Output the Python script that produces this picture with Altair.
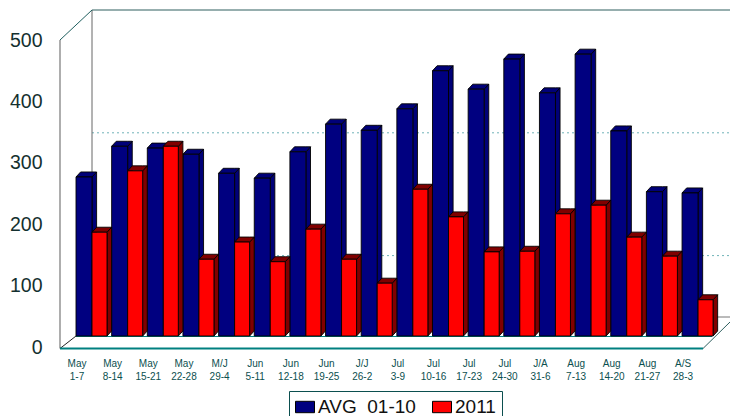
import altair as alt
import pandas as pd

# Weekly counts for each period
months = ["May", "May", "May", "May", "M/J", "Jun", "Jun", "Jun", "J/J", "Jul", "Jul", "Jul", "Jul", "J/A", "Aug", "Aug", "Aug", "A/S"]
days = ["1-7", "8-14", "15-21", "22-28", "29-4", "5-11", "12-18", "19-25", "26-2", "3-9", "10-16", "17-23", "24-30", "31-6", "7-13", "14-20", "21-27", "28-3"]
avg_values = [259, 309, 306, 296, 265, 257, 300, 345, 335, 370, 432, 402, 451, 396, 459, 334, 235, 233]
y2011_values = [169, 269, 309, 125, 153, 121, 174, 125, 86, 239, 194, 137, 138, 199, 213, 161, 130, 59]
avg_name = "AVG\u00a0\u00a001-10"
y2011_name = "2011"
y_ticks = [0, 100, 200, 300, 400, 500]
grid_levels = [100, 300]

# Oblique projection: x is measured in groups, y in counts
PITCH = 35.65
UNIT = 0.614
W, H = 730, 416
ORIGIN_X, ORIGIN_Y = 76, 336
px = lambda p: p / PITCH
val = lambda p: p / UNIT
x_scale = alt.Scale(domain=[px(-ORIGIN_X), px(W - ORIGIN_X)], range=[0, W], nice=False, zero=False)
y_scale = alt.Scale(domain=[val(ORIGIN_Y - H), val(ORIGIN_Y)], range=[H, 0], nice=False, zero=False)
color_scale = alt.Scale(domain=[avg_name, y2011_name], range=["#000080", "#ff0000"])

y_axis = alt.Axis(
    values=y_ticks, orient="left", domain=False, ticks=False, grid=False, offset=-42,
    labelPadding=0, labelOffset=11, labelFont="Liberation Sans", labelFontSize=19.5,
    labelColor="#14302f", title=None, format="d",
)

DEPTH_X, DEPTH_Y = px(4.6), val(5)
series = [
    (avg_name, avg_values, 0.0, px(16)),
    (y2011_name, y2011_values, px(16), px(15)),
]

front_rows, side_rows, top_rows = [], [], []
for name, values, shift, width in series:
    for g, v in enumerate(values):
        x0, x1 = g + shift, g + shift + width
        key = f"{name}-{g}"
        front_rows.append(dict(series=name, x0=x0, x1=x1, v=v))
        side_rows += [
            dict(series=name, bar=key, x=x1, lo=0, hi=v),
            dict(series=name, bar=key, x=x1 + DEPTH_X, lo=DEPTH_Y, hi=v + DEPTH_Y),
        ]
        top_rows += [
            dict(series=name, bar=key, x=x0, lo=v, hi=v),
            dict(series=name, bar=key, x=x0 + DEPTH_X, lo=v, hi=v + DEPTH_Y),
            dict(series=name, bar=key, x=x1, lo=v, hi=v + DEPTH_Y),
            dict(series=name, bar=key, x=x1 + DEPTH_X, lo=v + DEPTH_Y, hi=v + DEPTH_Y),
        ]
front = pd.DataFrame(front_rows)
side = pd.DataFrame(side_rows)
top = pd.DataFrame(top_rows)


def face(df, name, colour):
    return alt.Chart(df[df.series == name]).mark_area(
        orient="vertical", color=colour, stroke="black", strokeWidth=0.9
    ).encode(
        x=alt.X("x:Q", scale=x_scale, axis=None),
        y=alt.Y("lo:Q", scale=y_scale, axis=y_axis, stack=None),
        y2="hi:Q",
        detail="bar:N",
    )


def fronts(name):
    return alt.Chart(front[front.series == name]).mark_bar(stroke="black", strokeWidth=0.9).encode(
        x=alt.X("x0:Q", scale=x_scale, axis=None),
        x2="x1:Q",
        y=alt.Y("v:Q", scale=y_scale, axis=y_axis, stack=None),
        y2=alt.datum(0),
        color=alt.Color(
            "series:N",
            scale=color_scale,
            sort=[avg_name, y2011_name],
            legend=alt.Legend(
                title=None,
                orient="none",
                legendX=289,
                legendY=391,
                direction="horizontal",
                columns=2,
                columnPadding=14,
                padding=6,
                strokeColor="#0b4f4f",
                fillColor="white",
                labelFont="Liberation Sans",
                labelFontSize=19,
                labelColor="#111111",
                labelLimit=200,
                labelOffset=3,
                symbolType="M-1,-0.6H1V0.6H-1Z",
                symbolSize=361,
                symbolStrokeColor="black",
                symbolStrokeWidth=1,
                symbolOpacity=1,
            ),
        ),
    )


# Frame of the box: walls, floor and back edge
WALL_F = px(60 - ORIGIN_X)
WALL_B = px(92 - ORIGIN_X)
FLOOR_F = val(ORIGIN_Y - 348.5)
FLOOR_B = val(ORIGIN_Y - 317)
TOP_F = val(ORIGIN_Y - 40)
TOP_B = val(ORIGIN_Y - 10)
FRONT_END = px(703 - ORIGIN_X)
RIGHT = px(W - ORIGIN_X)
frame_segments = [
    dict(x=WALL_F, x2=WALL_F, y=FLOOR_F, y2=TOP_F, c="#777777", w=1.2),
    dict(x=WALL_B, x2=WALL_B, y=val(ORIGIN_Y - 178), y2=TOP_B, c="#666666", w=1),
    dict(x=WALL_F, x2=WALL_B, y=TOP_F, y2=TOP_B, c="#1f5f5f", w=1),
    dict(x=WALL_B, x2=RIGHT, y=TOP_B, y2=TOP_B, c="#2f5f5f", w=1),
    dict(x=WALL_F, x2=px(0), y=FLOOR_F, y2=0, c="#222222", w=1),
    dict(x=WALL_F, x2=FRONT_END, y=FLOOR_F, y2=FLOOR_F, c="#008080", w=2),
    dict(x=FRONT_END, x2=RIGHT, y=FLOOR_F, y2=val(ORIGIN_Y - 322), c="#2f5f5f", w=1),
    dict(x=px(712 - ORIGIN_X), x2=RIGHT, y=FLOOR_B, y2=FLOOR_B, c="#777777", w=1),
    dict(x=0, x2=px(712 - ORIGIN_X), y=val(-0.5), y2=val(-0.5), c="#008080", w=1),
]
frame_layers = [
    alt.Chart(pd.DataFrame([seg])).mark_rule(color=seg["c"], strokeWidth=seg["w"]).encode(
        x=alt.X("x:Q", scale=x_scale, axis=None),
        x2="x2:Q",
        y=alt.Y("y:Q", scale=y_scale, axis=y_axis),
        y2="y2:Q",
    )
    for seg in frame_segments
]

grid = pd.DataFrame({"level": grid_levels})
grid["x"] = WALL_B
grid["x2"] = RIGHT
grid["y"] = FLOOR_B + grid["level"]
grid_layer = alt.Chart(grid).mark_rule(color="#6fb3b8", strokeWidth=1, strokeDash=[2, 3]).encode(
    x=alt.X("x:Q", scale=x_scale, axis=None),
    x2="x2:Q",
    y=alt.Y("y:Q", scale=y_scale, axis=y_axis),
)

labels = pd.DataFrame({
    "x": [i + px(1) for i in range(len(months))],
    "text": [f"{m}\n{d}" for m, d in zip(months, days)],
})
label_layer = alt.Chart(labels).mark_text(
    font="Liberation Sans", fontSize=10, color="#0b4f4f", lineBreak="\n", lineHeight=12.5,
    baseline="top", align="center",
).encode(
    x=alt.X("x:Q", scale=x_scale, axis=None),
    y=alt.value(359),
    text="text:N",
)

chart = alt.layer(
    grid_layer,
    *frame_layers,
    face(side, avg_name, "#000078"),
    face(top, avg_name, "#000078"),
    fronts(avg_name),
    face(side, y2011_name, "#800000"),
    face(top, y2011_name, "#800000"),
    fronts(y2011_name),
    label_layer,
).properties(
    width=W,
    height=H,
    padding=0,
    autosize=alt.AutoSizeParams(type="none"),
    background="white",
).configure_view(stroke=None)

chart.save("out.html", embed_options={"renderer": "svg", "actions": False})
